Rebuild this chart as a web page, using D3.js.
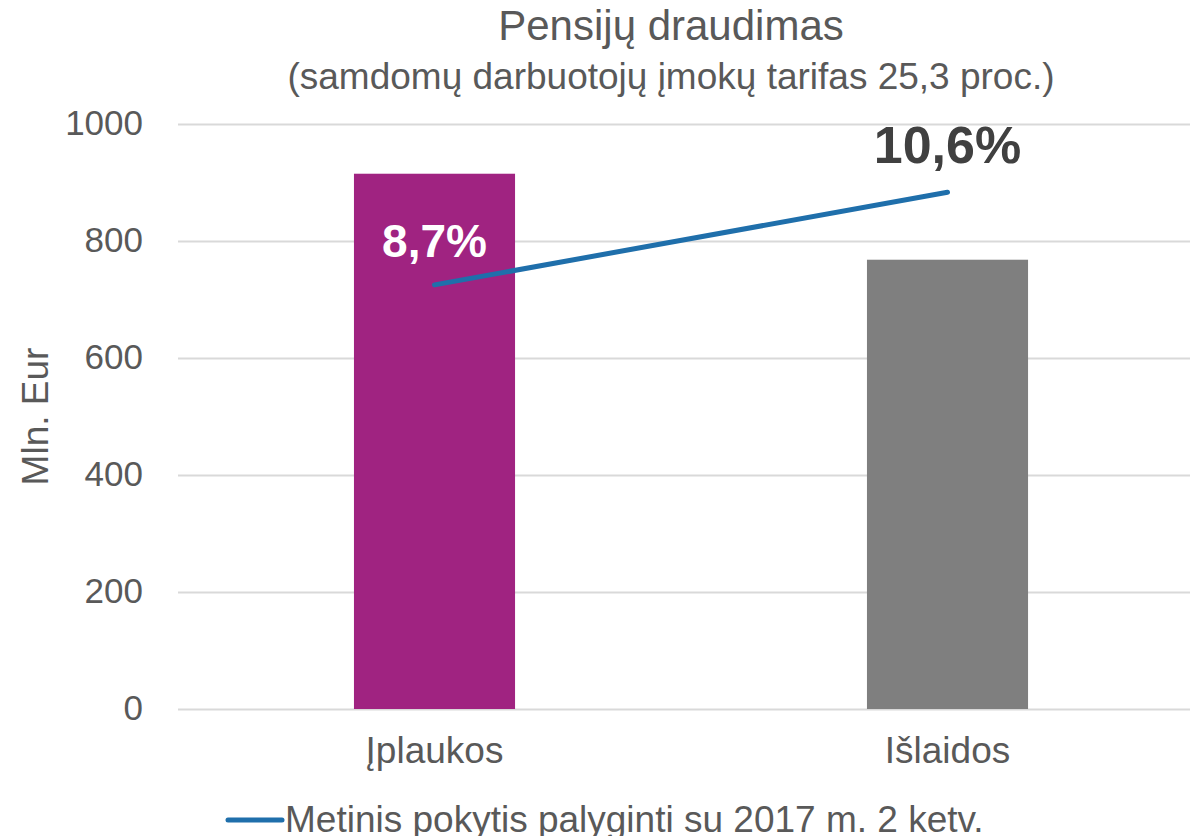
<!DOCTYPE html>
<html>
<head>
<meta charset="utf-8">
<script src="https://cdn.jsdelivr.net/npm/d3@7"></script>
<style>
  body { margin: 0; background: #fff; }
  text { font-family: "Liberation Sans", Arial, sans-serif; }
</style>
</head>
<body>
<svg id="chart"></svg>
<script>
// data
const categories = ["Įplaukos", "Išlaidos"];
const amounts = [915, 768];          // Mln. Eur
const changes = [8.7, 10.6];         // metinis pokytis, %
const changeLabels = ["8,7%", "10,6%"];
const barColors = ["#a02381", "#7f7f7f"];
const yTicks = [0, 200, 400, 600, 800, 1000];

const width = 1190;
const height = 836;
const margin = { top: 124, bottom: 127, left: 178, right: -14 };

const svg = d3.select("#chart")
  .attr("width", width)
  .attr("height", height);

const x = d3.scaleBand()
  .domain(categories)
  .range([margin.left, width - margin.right]);

const y = d3.scaleLinear()
  .domain([0, 1000])
  .range([height - margin.bottom, margin.top]);

// hidden secondary axis for the change line
const y2 = d3.scaleLinear()
  .domain([0, 12])
  .range([height - margin.bottom, margin.top]);

// gridlines + left axis
const axis = svg.append("g")
  .attr("transform", `translate(${margin.left},0)`)
  .call(d3.axisLeft(y).tickValues(yTicks).tickFormat(d3.format("d"))
    .tickSize(-(width - margin.right - margin.left)).tickPadding(35));

axis.select(".domain").remove();
axis.selectAll(".tick line").attr("stroke", "#d9d9d9").attr("stroke-width", 2);
axis.selectAll(".tick text")
  .attr("fill", "#595959")
  .attr("font-size", 35)
  .attr("dy", "0.3em");

// bars
const barW = x.bandwidth() * 0.314;
svg.append("g")
  .selectAll("rect")
  .data(categories)
  .join("rect")
  .attr("x", d => x(d) + x.bandwidth() / 2 - barW / 2)
  .attr("y", (d, i) => y(amounts[i]))
  .attr("width", barW)
  .attr("height", (d, i) => y(0) - y(amounts[i]))
  .attr("fill", (d, i) => barColors[i]);

// line
const line = d3.line()
  .x(d => x(d.cat) + x.bandwidth() / 2)
  .y(d => y2(d.v));

const pts = categories.map((c, i) => ({ cat: c, v: changes[i] }));

svg.append("path")
  .attr("d", line(pts))
  .attr("fill", "none")
  .attr("stroke", "#1f6fab")
  .attr("stroke-width", 5)
  .attr("stroke-linecap", "round");

// line labels
svg.append("text")
  .attr("x", x(categories[0]) + x.bandwidth() / 2)
  .attr("y", y2(changes[0]) - 28)
  .attr("text-anchor", "middle")
  .attr("font-size", 46)
  .attr("font-weight", "bold")
  .attr("fill", "#fff")
  .text(changeLabels[0]);

svg.append("text")
  .attr("x", x(categories[1]) + x.bandwidth() / 2)
  .attr("y", y2(changes[1]) - 29)
  .attr("text-anchor", "middle")
  .attr("font-size", 52)
  .attr("font-weight", "bold")
  .attr("fill", "#404040")
  .text(changeLabels[1]);

// category labels
svg.append("g")
  .selectAll("text")
  .data(categories)
  .join("text")
  .attr("x", d => x(d) + x.bandwidth() / 2)
  .attr("y", 763)
  .attr("text-anchor", "middle")
  .attr("font-size", 37)
  .attr("fill", "#595959")
  .text(d => d);

// titles
svg.append("text")
  .attr("x", 671).attr("y", 40)
  .attr("text-anchor", "middle")
  .attr("font-size", 42)
  .attr("fill", "#595959")
  .text("Pensijų draudimas");

svg.append("text")
  .attr("x", 671).attr("y", 89)
  .attr("text-anchor", "middle")
  .attr("font-size", 37)
  .attr("fill", "#595959")
  .text("(samdomų darbuotojų įmokų tarifas 25,3 proc.)");

// y axis title
svg.append("text")
  .attr("transform", `translate(48,${(y(0) + y(1000)) / 2}) rotate(-90)`)
  .attr("text-anchor", "middle")
  .attr("font-size", 37)
  .attr("fill", "#595959")
  .text("Mln. Eur");

// legend
const lg = svg.append("g").attr("transform", "translate(228,820)");
lg.append("line")
  .attr("x1", 0).attr("x2", 54)
  .attr("stroke", "#1f6fab")
  .attr("stroke-width", 5)
  .attr("stroke-linecap", "round");
lg.append("text")
  .attr("x", 57).attr("y", 12)
  .attr("font-size", 37)
  .attr("fill", "#595959")
  .text("Metinis pokytis palyginti su 2017 m. 2 ketv.");
</script>
</body>
</html>
